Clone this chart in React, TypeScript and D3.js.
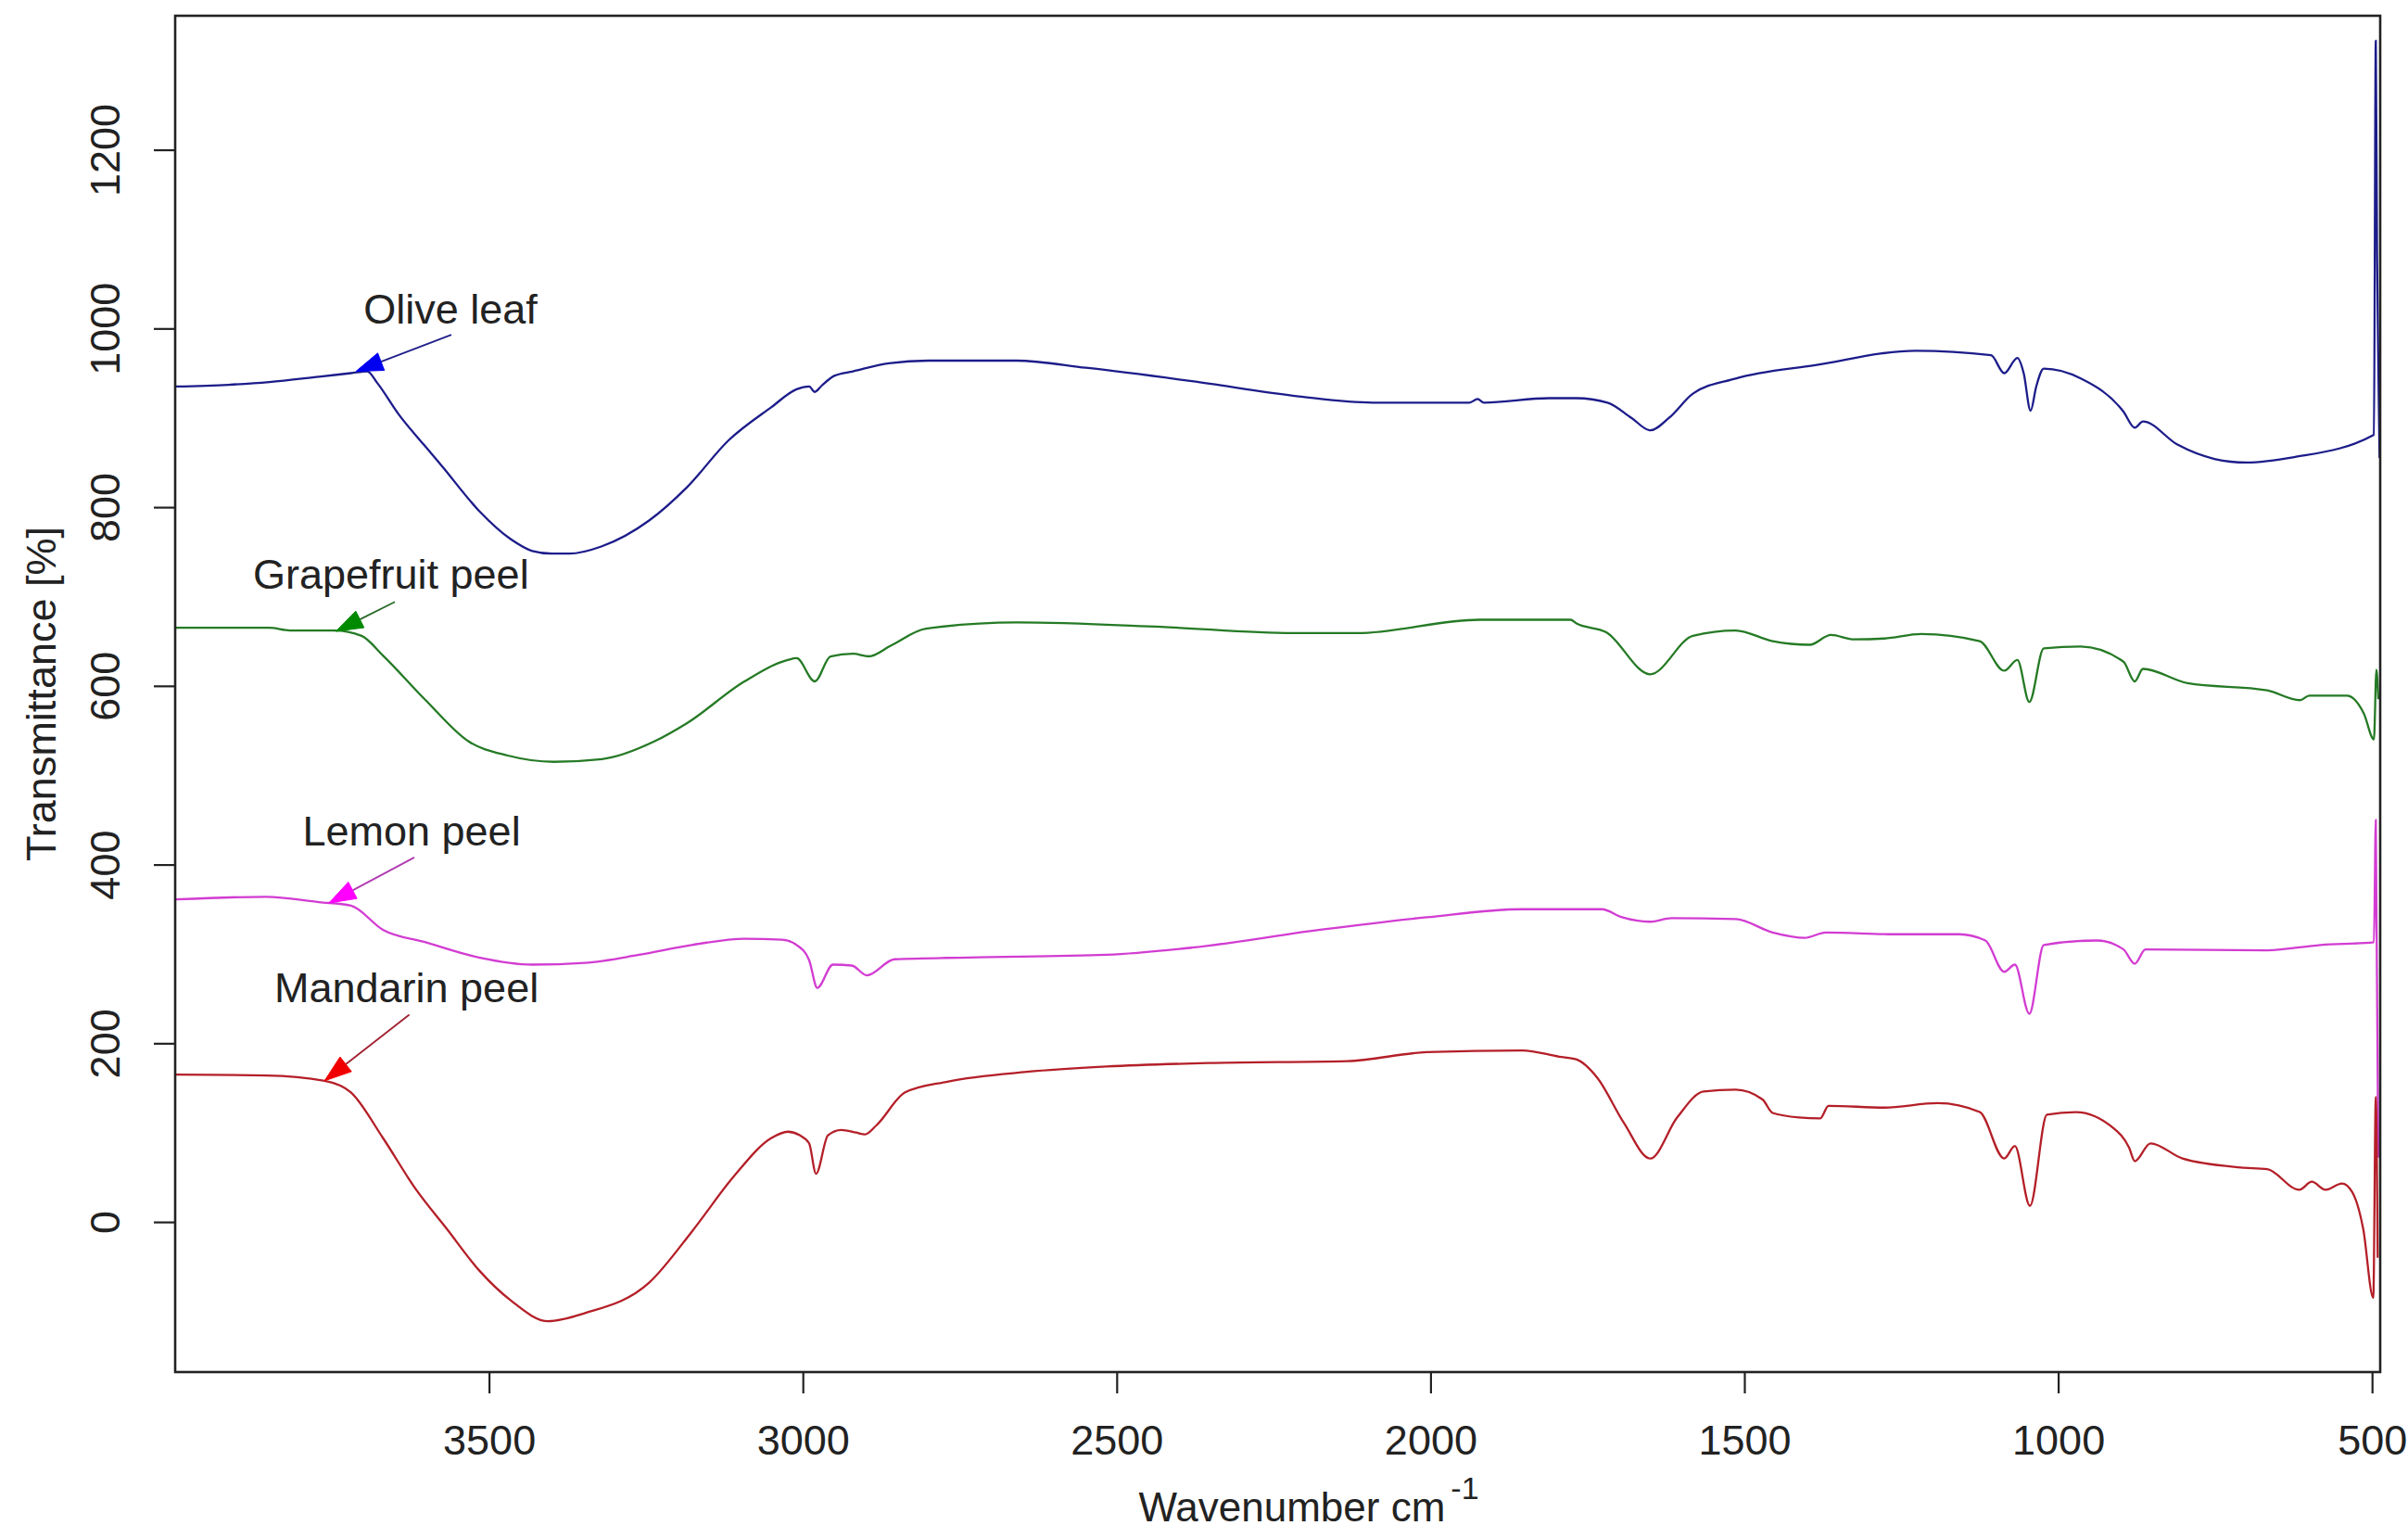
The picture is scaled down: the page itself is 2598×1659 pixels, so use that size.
import { useEffect, useRef } from "react";
import * as d3 from "d3";

const W = 2598, H = 1659;
const BOX = { left: 189, right: 2568, top: 17, bottom: 1480 };
const FONT = "'Liberation Sans', Arial, sans-serif";

const X_TICKS = [3500, 3000, 2500, 2000, 1500, 1000, 500];
const Y_TICKS = [0, 200, 400, 600, 800, 1000, 1200];

type Pt = [number, number];

// [wavenumber, transmittance]
const OLIVE: Pt[] = [
  [4000, 935], [3915, 937], [3850, 940], [3771, 946], [3720, 950], [3694, 952], [3678, 939],
  [3644, 904], [3604, 870], [3575, 846], [3516, 796], [3465, 764], [3431, 751],
  [3400, 748], [3372, 748], [3321, 756], [3245, 785], [3185, 822], [3118, 875], [3050, 912],
  [3010, 932], [2990, 935], [2981, 929], [2970, 936], [2950, 947], [2920, 952], [2863, 961],
  [2800, 964], [2660, 964], [2549, 956], [2380, 941], [2210, 924], [2092, 917], [1938, 917],
  [1925, 921], [1915, 917], [1811, 922], [1768, 922], [1718, 917], [1680, 900], [1650, 886],
  [1620, 900], [1582, 927], [1514, 944], [1387, 959], [1227, 975], [1107, 970], [1086, 950],
  [1065, 967], [1055, 950], [1044, 908], [1035, 935], [1023, 955], [964, 944], [896, 907],
  [878, 889], [865, 896], [810, 870], [751, 854], [700, 850], [624, 856], [497, 881],
  [494, 1322], [492, 1085], [490, 960], [488, 855],
];

const GRAPEFRUIT: Pt[] = [
  [4000, 665], [3850, 665], [3817, 662], [3746, 662], [3703, 656], [3669, 634], [3601, 584],
  [3533, 538], [3470, 522], [3397, 515], [3320, 518], [3236, 538], [3185, 558], [3093, 605],
  [3024, 629], [3010, 631], [2981, 605], [2956, 633], [2920, 636], [2895, 633], [2860, 645],
  [2804, 664], [2659, 671], [2430, 666], [2219, 659], [2117, 659], [1922, 674], [1777, 674],
  [1768, 670], [1720, 660], [1650, 613], [1582, 656], [1514, 662], [1455, 650], [1396, 646],
  [1362, 657], [1325, 652], [1277, 653], [1218, 658], [1125, 650], [1086, 617], [1065, 629],
  [1046, 582], [1023, 642], [964, 644], [896, 627], [878, 605], [865, 619], [794, 603],
  [667, 595], [615, 584], [600, 589], [540, 589], [513, 569], [497, 540], [493, 618], [490, 585],
];

const LEMON: Pt[] = [
  [4000, 361], [3855, 364], [3771, 358], [3720, 354], [3669, 327], [3601, 313], [3516, 296],
  [3431, 288], [3347, 290], [3261, 299], [3177, 310], [3093, 317], [3033, 316], [3010, 310],
  [2990, 293], [2977, 262], [2952, 288], [2922, 287], [2898, 276], [2854, 294], [2736, 296],
  [2516, 299], [2380, 307], [2176, 327], [2006, 341], [1854, 350], [1727, 350], [1695, 341],
  [1650, 336], [1616, 340], [1514, 339], [1455, 324], [1404, 318], [1370, 324], [1260, 322],
  [1158, 322], [1116, 315], [1086, 280], [1069, 288], [1046, 233], [1023, 310], [938, 315],
  [896, 305], [878, 289], [861, 305], [667, 304], [582, 310], [497, 313], [494, 450], [490, 72],
];

const MANDARIN: Pt[] = [
  [4000, 165], [3855, 164], [3762, 158], [3720, 145], [3669, 94], [3617, 37], [3567, -8],
  [3516, -54], [3465, -88], [3406, -111], [3347, -102], [3245, -68], [3177, -11], [3110, 51],
  [3050, 94], [3024, 101], [3005, 97], [2990, 88], [2979, 54], [2960, 97], [2939, 103],
  [2915, 100], [2901, 98], [2883, 108], [2837, 145], [2770, 157], [2643, 168], [2516, 174],
  [2346, 178], [2133, 180], [2006, 190], [1854, 192], [1795, 185], [1768, 182], [1735, 162],
  [1692, 111], [1650, 71], [1607, 117], [1565, 146], [1514, 148], [1471, 137], [1455, 122],
  [1413, 117], [1379, 116], [1366, 130], [1277, 128], [1192, 133], [1125, 123], [1086, 71],
  [1069, 85], [1045, 18], [1018, 120], [972, 123], [912, 105], [887, 83], [878, 68],
  [853, 88], [802, 71], [709, 61], [667, 59], [616, 36], [596, 45], [574, 36], [548, 43],
  [532, 34], [514, -8], [498, -85], [494, 140], [491, -40],
];

const NAMES = ["Olive leaf", "Grapefruit peel", "Lemon peel", "Mandarin peel"];
const SPECTRA = [OLIVE, GRAPEFRUIT, LEMON, MANDARIN];
// label anchor and arrow ends, in [wavenumber, transmittance]
const LABEL_AT: Pt[] = [[3700, 1006], [3876, 709], [3797, 421], [3842, 246]];
const ARROW_FROM: Pt[] = [[3560, 993], [3650, 694], [3619, 408], [3627, 232]];
const ARROW_TO: Pt[] = [[3712, 952], [3744, 661], [3755, 357], [3762, 158]];

const LINE_COLORS = ["#1c1c8a", "#257a25", "#d23cd2", "#b41f28"];
const HEAD_COLORS = ["#0000f0", "#008a00", "#ff00ff", "#f00000"];
const SHAFT_COLORS = ["#20208a", "#2a6a2a", "#b03ab0", "#a02030"];

export default function App() {
  const gx = useRef<SVGGElement>(null);
  const gy = useRef<SVGGElement>(null);

  const x = d3.scaleLinear().domain([4000, 487]).range([BOX.left, BOX.right]);
  const y = d3.scaleLinear().domain([-168, 1350]).range([BOX.bottom, BOX.top]);
  const line = d3.line<Pt>().x((d) => x(d[0])).y((d) => y(d[1])).curve(d3.curveMonotoneX);

  useEffect(() => {
    if (!gx.current || !gy.current) return;
    const ax = d3.select(gx.current);
    ax.selectAll("*").remove();
    ax.call(d3.axisBottom(x).tickValues(X_TICKS).tickSize(23).tickPadding(34).tickFormat(d3.format("d")));
    ax.select(".domain").remove();
    ax.selectAll("line").attr("stroke", "#222").attr("stroke-width", 2.2);
    ax.selectAll("text").attr("font-size", 45).attr("font-family", FONT).attr("fill", "#222");

    const ay = d3.select(gy.current);
    ay.selectAll("*").remove();
    ay.call(d3.axisLeft(y).tickValues(Y_TICKS).tickSize(23).tickFormat(d3.format("d")));
    ay.select(".domain").remove();
    ay.selectAll("line").attr("stroke", "#222").attr("stroke-width", 2.2);
    ay.selectAll("text")
      .attr("font-size", 45).attr("font-family", FONT).attr("fill", "#222")
      .attr("x", null).attr("dy", null)
      .attr("text-anchor", "middle").attr("dominant-baseline", "central")
      .attr("transform", `translate(${113 - BOX.left},0) rotate(-90)`);
  }, []);

  return (
    <svg width={W} height={H} style={{ position: "absolute", left: 0, top: 0, background: "#fff" }}
      fontFamily={FONT}>
      <rect width={W} height={H} fill="#fff" />
      <defs>
        <clipPath id="plot">
          <rect x={BOX.left} y={BOX.top} width={BOX.right - BOX.left} height={BOX.bottom - BOX.top} />
        </clipPath>
      </defs>

      <g clipPath="url(#plot)">
        {SPECTRA.map((s, i) => (
          <path key={NAMES[i]} d={line(s) ?? ""} fill="none" stroke={LINE_COLORS[i]}
            strokeWidth={2.3} strokeLinejoin="round" />
        ))}
      </g>

      {NAMES.map((name, i) => {
        const x0 = x(ARROW_FROM[i][0]), y0 = y(ARROW_FROM[i][1]);
        const x1 = x(ARROW_TO[i][0]), y1 = y(ARROW_TO[i][1]);
        const len = Math.hypot(x0 - x1, y0 - y1);
        const ux = (x0 - x1) / len, uy = (y0 - y1) / len;
        const hl = 29, hw = 10;
        const bx = x1 + ux * hl, by = y1 + uy * hl;
        const pts = [
          [x1, y1],
          [bx - uy * hw, by + ux * hw],
          [bx + uy * hw, by - ux * hw],
        ].map((p) => p.join(",")).join(" ");
        return (
          <g key={name}>
            <line x1={x0} y1={y0} x2={bx} y2={by} stroke={SHAFT_COLORS[i]} strokeWidth={1.8} />
            <polygon points={pts} fill={HEAD_COLORS[i]} stroke={HEAD_COLORS[i]} strokeWidth={1} />
            <text x={x(LABEL_AT[i][0])} y={y(LABEL_AT[i][1])} fontSize={45} fill="#222">{name}</text>
          </g>
        );
      })}

      <g ref={gx} transform={`translate(0,${BOX.bottom})`} />
      <g ref={gy} transform={`translate(${BOX.left},0)`} />

      <rect x={BOX.left} y={BOX.top} width={BOX.right - BOX.left} height={BOX.bottom - BOX.top}
        fill="none" stroke="#222" strokeWidth={2.6} />

      <text x={1412} y={1641} fontSize={44} fill="#222" textAnchor="middle">
        Wavenumber cm<tspan dx={6} dy={-24} fontSize={34}>-1</tspan>
      </text>
      <text transform={`translate(44,${(BOX.top + BOX.bottom) / 2}) rotate(-90)`} fontSize={45}
        fill="#222" textAnchor="middle" dominantBaseline="central">
        Transmittance [%]
      </text>
    </svg>
  );
}
